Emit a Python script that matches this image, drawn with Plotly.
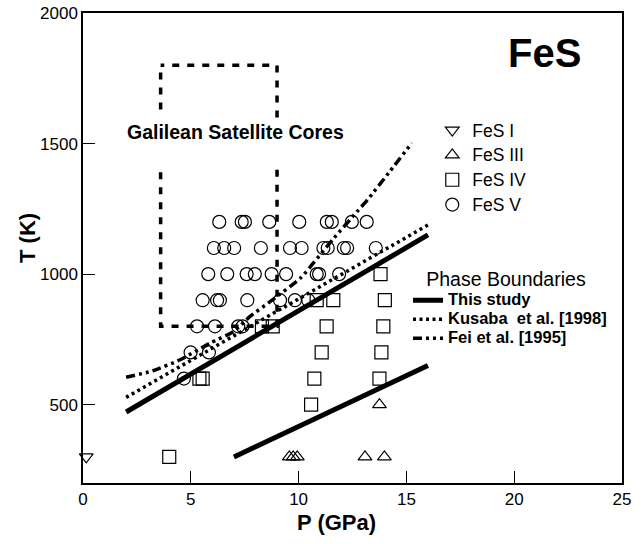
import plotly.graph_objects as go

FONT = "Liberation Sans, Arial, sans-serif"

# ---------------- data ----------------
# FeS V (circles)
fes5_P = [6.32, 7.36, 7.51, 8.64, 10.03, 11.31, 11.54, 12.47, 13.16,
          6.07, 6.55, 7.01, 8.25, 9.6, 10.14, 11.15, 11.35, 12.1, 12.25, 13.58,
          5.81, 6.69, 7.59, 7.97, 8.75, 9.42, 10.84, 10.95, 11.88,
          5.55, 6.22, 6.35, 7.62, 9.14, 9.83, 10.45,
          5.29, 6.12, 7.2, 7.4,
          4.99, 5.84,
          4.68]
fes5_T = [1200] * 9 + [1100] * 11 + [1000] * 9 + [900] * 7 + [800] * 4 + [700] * 2 + [600]

# FeS IV (squares)
fes4_P = [4.0, 5.4, 5.55, 10.73, 13.75, 10.58, 11.07, 13.84, 8.3, 8.8, 11.3, 13.93,
          10.84, 11.61, 14.0, 13.8]
fes4_T = [300, 600, 600, 600, 600, 500, 700, 700, 800, 800, 800, 800,
          900, 900, 900, 1000]

# FeS III (up triangles)
fes3_P = [13.75, 9.57, 9.75, 9.94, 13.08, 13.98]
fes3_T = [500, 300, 300, 300, 300, 300]

# FeS I (down triangle)
fes1_P = [0.15]
fes1_T = [300]

# Phase boundaries
this_upper_P = [2, 16]
this_upper_T = [472, 1150]
this_lower_P = [7, 16]
this_lower_T = [300, 650]
kusaba_P = [2, 16]
kusaba_T = [528, 1188]
fei_P = [2.0, 3.25, 4.5, 5.9, 7.0, 7.75, 8.8, 10.1, 10.7, 11.6, 12.7, 13.2, 14.2, 15.25]
fei_T = [605, 630, 672, 736, 781, 838, 902, 986, 1044, 1134, 1238, 1285, 1390, 1502]

# Galilean satellite cores box (with gap for its label)
box_P = [3.6, 3.6, None, 3.6, 3.6, 9.0, 9.0, None, 9.0, 9.0, 3.6]
box_T = [1630, 1800, None, 1390, 800, 800, 1420, None, 1600, 1800, 1800]

x_ticks = [0, 5, 10, 15, 20, 25]
y_ticks = [500, 1000, 1500, 2000]

# ---------------- figure ----------------
fig = go.Figure()

fig.add_trace(go.Scatter(x=box_P, y=box_T, mode="lines",
                         line=dict(color="black", width=3.5, dash="7px,8px"),
                         showlegend=False, hoverinfo="skip"))

sym_common = dict(color="black", line=dict(color="black", width=1.2))
ln = '<span style="font-size:17.5px">%s</span>'
fig.add_trace(go.Scatter(x=fes1_P, y=fes1_T, mode="markers", name=ln % "FeS I",
                         marker=dict(symbol="triangle-down-open", size=12, **sym_common),
                         cliponaxis=False, legend="legend", legendgroup="a"))
fig.add_trace(go.Scatter(x=fes3_P, y=fes3_T, mode="markers", name=ln % "FeS III",
                         marker=dict(symbol="triangle-up-open", size=12, **sym_common),
                         legend="legend", legendgroup="b"))
fig.add_trace(go.Scatter(x=fes4_P, y=fes4_T, mode="markers", name=ln % "FeS IV",
                         marker=dict(symbol="square-open", size=13, **sym_common),
                         legend="legend", legendgroup="c"))
fig.add_trace(go.Scatter(x=fes5_P, y=fes5_T, mode="markers", name=ln % "FeS V",
                         marker=dict(symbol="circle-open", size=13, **sym_common),
                         legend="legend", legendgroup="d"))

nm = '<span style="font-size:16.5px"><b>%s</b></span>'
fig.add_trace(go.Scatter(x=this_upper_P, y=this_upper_T, mode="lines",
                         name=nm % "This study", legend="legend2", legendgroup="ts",
                         line=dict(color="black", width=5)))
fig.add_trace(go.Scatter(x=this_lower_P, y=this_lower_T, mode="lines",
                         name=nm % "This study", legend="legend2", legendgroup="ts",
                         showlegend=False, line=dict(color="black", width=5)))
fig.add_trace(go.Scatter(x=kusaba_P, y=kusaba_T, mode="lines",
                         name=nm % "Kusaba\u00a0 et al. [1998]", legend="legend2",
                         line=dict(color="black", width=3.5, dash="3px,3.5px")))
fig.add_trace(go.Scatter(x=fei_P, y=fei_T, mode="lines",
                         name=nm % "Fei et al. [1995]", legend="legend2",
                         line=dict(color="black", width=3.5, shape="spline", smoothing=0.6,
                                   dash="9px,4px,3px,4px,3px,4px")))

axis_common = dict(showline=True, linecolor="black", linewidth=1.5, mirror=True,
                   ticks="inside", ticklen=12, tickwidth=1.2, tickcolor="black",
                   showgrid=False, zeroline=False, automargin=False,
                   tickfont=dict(family=FONT, size=17, color="black"))

fig.update_layout(
    width=642, height=544,
    margin=dict(l=83, r=20, t=13, b=61),
    paper_bgcolor="white", plot_bgcolor="white",
    font=dict(family=FONT, color="black"),
    xaxis=dict(range=[0, 25], tickvals=x_ticks, **axis_common),
    yaxis=dict(range=[200, 2000], tickvals=y_ticks, **axis_common),
    legend=dict(x=0.648, y=0.788, xanchor="left", yanchor="top",
                bgcolor="rgba(0,0,0,0)", borderwidth=0,
                font=dict(family=FONT, size=16.8, color="black"),
                traceorder="normal"),
    legend2=dict(x=0.603, y=0.4735, xanchor="left", yanchor="top",
                 bgcolor="rgba(0,0,0,0)", borderwidth=0,
                 font=dict(family=FONT, size=12.0, color="black"),
                 title=dict(text="\u00a0\u00a0\u00a0Phase Boundaries",
                            font=dict(family=FONT, size=19.5, color="black")),
                 traceorder="normal"),
    annotations=[
        dict(text="<b>FeS</b>", x=21.4, y=1847, xref="x", yref="y",
             showarrow=False, font=dict(family=FONT, size=40, color="black")),
        dict(text="<b>Galilean Satellite Cores</b>", x=7.08, y=1543, xref="x", yref="y",
             showarrow=False, font=dict(family=FONT, size=19.5, color="black")),
        dict(text="<b>P (GPa)</b>", x=(336 - 83) / 538.4, y=-39 / 470,
             xref="paper", yref="paper", xanchor="center", yanchor="middle",
             showarrow=False, font=dict(family=FONT, size=22, color="black")),
        dict(text="<b>T (K)</b>", x=(28 - 83) / 538.4, y=(483 - 238) / 470,
             xref="paper", yref="paper", xanchor="center", yanchor="middle",
             showarrow=False, textangle=-90,
             font=dict(family=FONT, size=22, color="black")),
    ],
)

fig.write_html("out.html", config={"displayModeBar": False},
               post_script="document.body.style.margin='0px';")
